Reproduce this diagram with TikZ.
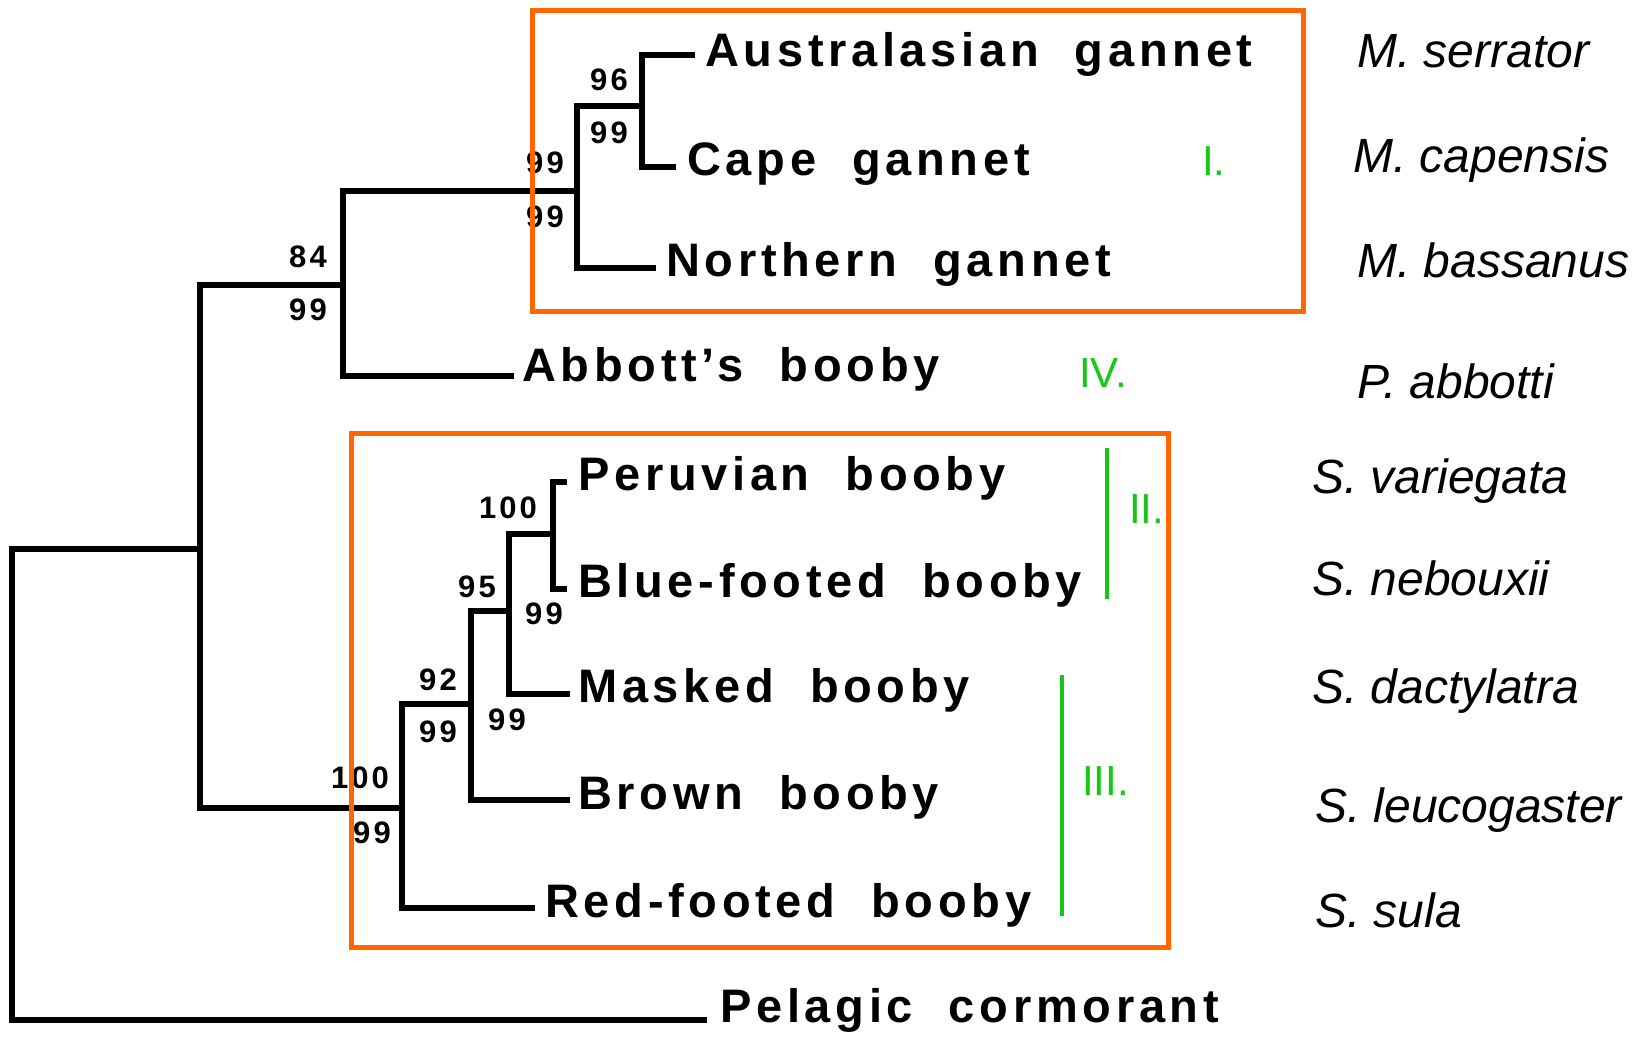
\documentclass[tikz,border=0pt]{standalone}
\usepackage{fontspec}
\setmainfont{Liberation Sans}
\newfontfamily\tipfont[LetterSpace=10]{Liberation Sans}
\newfontfamily\bsfont[LetterSpace=10]{Liberation Sans}
\newcommand\wgap{\hspace{36pt}}
\definecolor{boxorange}{RGB}{255,102,0}
\definecolor{grpgreen}{RGB}{20,200,20}
\tikzset{
  branch/.style={line width=5.5pt, line join=miter, line cap=rect, black},
  tip/.style={anchor=base west, inner sep=0pt, font=\tipfont\bfseries\fontsize{47}{50}\selectfont},
  sp/.style={anchor=base west, inner sep=0pt, font=\itshape\fontsize{48}{52}\selectfont},
  boot/.style={anchor=center, inner sep=0pt, font=\bsfont\bfseries\fontsize{31}{34}\selectfont},
  grp/.style={anchor=base west, inner sep=0pt, text=grpgreen, font=\fontsize{42}{46}\selectfont},
  grpbar/.style={line width=3.5pt, grpgreen},
  clade/.style={line width=5pt, boxorange}
}
\begin{document}
\begin{tikzpicture}[x=1pt,y=-1pt]
\useasboundingbox (0,0) rectangle (1633,1037);
\fill[white] (0,0) rectangle (1633,1037);
% internal nodes
\coordinate (root) at (12,549);
\coordinate (nA) at (200,549);
\coordinate (n84) at (343,285);
\coordinate (ngan) at (577,191);
\coordinate (n96) at (642,106);
\coordinate (nb100) at (402,808);
\coordinate (n92) at (471,704);
\coordinate (n95) at (509,611);
\coordinate (ns100) at (553,534);
% tip ends
\coordinate (tAus) at (692,55);
\coordinate (tCape) at (673,167);
\coordinate (tNor) at (653,268);
\coordinate (tAbb) at (511,376);
\coordinate (tPer) at (564,482);
\coordinate (tBlue) at (564,589);
\coordinate (tMask) at (567,694);
\coordinate (tBrown) at (567,800);
\coordinate (tRed) at (532,908);
\coordinate (tPel) at (704,1020);
% branches
\draw[branch] (root) -- (nA);
\draw[branch] (root) |- (tPel);
\draw[branch] (nA) |- (n84);
\draw[branch] (nA) |- (nb100);
\draw[branch] (n84) |- (ngan);
\draw[branch] (n84) |- (tAbb);
\draw[branch] (ngan) |- (n96);
\draw[branch] (ngan) |- (tNor);
\draw[branch] (n96) |- (tAus);
\draw[branch] (n96) |- (tCape);
\draw[branch] (nb100) |- (n92);
\draw[branch] (nb100) |- (tRed);
\draw[branch] (n92) |- (n95);
\draw[branch] (n92) |- (tBrown);
\draw[branch] (n95) |- (ns100);
\draw[branch] (n95) |- (tMask);
\draw[branch] (ns100) |- (tPer);
\draw[branch] (ns100) |- (tBlue);
% tip labels
\node[tip] (lAus) at (705,66) {Australasian\wgap gannet};
\node[tip] (lCape) at (687,175) {Cape\wgap gannet};
\node[tip] (lNor) at (666,276) {Northern\wgap gannet};
\node[tip] (lAbb) at (522,381) {Abbott’s\wgap booby};
\node[tip] (lPer) at (578,490) {Peruvian\wgap booby};
\node[tip] (lBlue) at (578,597) {Blue-footed\wgap booby};
\node[tip] (lMask) at (578,702) {Masked\wgap booby};
\node[tip] (lBrown) at (578,809) {Brown\wgap booby};
\node[tip] (lRed) at (545,917) {Red-footed\wgap booby};
\node[tip] (lPel) at (720,1022) {Pelagic\wgap cormorant};
% bootstrap values
\node[boot] (b96) at (609,80) {96};
\node[boot] (b96b) at (609,133) {99};
\node[boot] (bganA) at (545,163) {99};
\node[boot] (bganB) at (545,217) {99};
\node[boot] (b84) at (308,257) {84};
\node[boot] (b84b) at (308,310) {99};
\node[boot] (bs100) at (508,508) {100};
\node[boot] (bs100b) at (544,614) {99};
\node[boot] (b95) at (477,587) {95};
\node[boot] (b95b) at (507,720) {99};
\node[boot] (b92) at (438,680) {92};
\node[boot] (b92b) at (438,732) {99};
\node[boot] (bb100) at (360,778) {100};
\node[boot] (bb100b) at (372,833) {99};
% species names
\node[sp] (sSer) at (1357,67) {M. serrator};
\node[sp] (sCap) at (1353,172) {M. capensis};
\node[sp] (sBas) at (1357,277) {M. bassanus};
\node[sp] (sAbb) at (1357,398) {P. abbotti};
\node[sp] (sVar) at (1312,493) {S. variegata};
\node[sp] (sNeb) at (1312,595) {S. nebouxii};
\node[sp] (sDac) at (1312,703) {S. dactylatra};
\node[sp] (sLeu) at (1315,822) {S. leucogaster};
\node[sp] (sSul) at (1315,927) {S. sula};
% group labels
\coordinate (gIIa) at (1107,448);
\coordinate (gIIb) at (1107,599);
\coordinate (gIIIa) at (1062,675);
\coordinate (gIIIb) at (1062,916);
\draw[grpbar] (gIIa) -- (gIIb);
\draw[grpbar] (gIIIa) -- (gIIIb);
\node[grp] (gI) at (1202,175) {I.};
\node[grp] (gII) at (1129,523) {II.};
\node[grp] (gIII) at (1082,795) {III.};
\node[grp] (gIV) at (1079,387) {IV.};
% clade boxes
\coordinate (boxAa) at (532,10);
\coordinate (boxAb) at (1303,311);
\coordinate (boxBa) at (351,433);
\coordinate (boxBb) at (1168,947);
\draw[clade] (boxAa) rectangle (boxAb);
\draw[clade] (boxBa) rectangle (boxBb);
\end{tikzpicture}
\end{document}
